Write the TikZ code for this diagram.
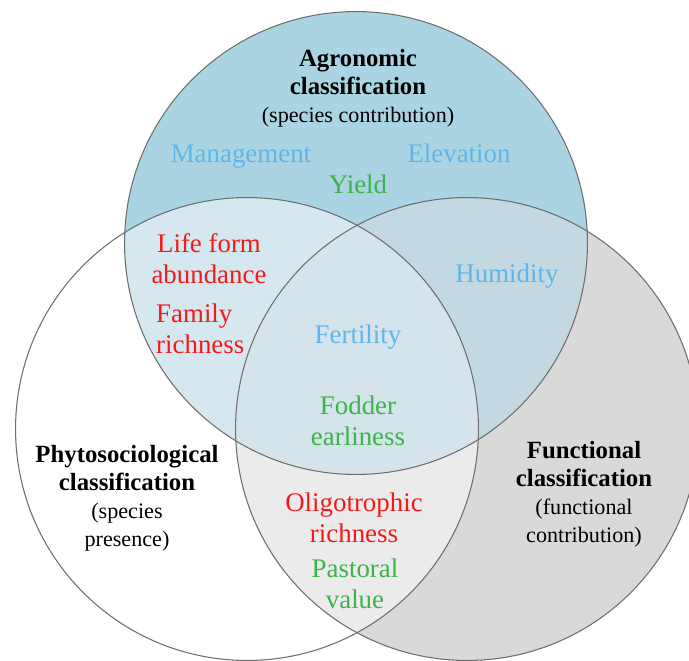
\documentclass[tikz,border=0pt]{standalone}
\usepackage{fontspec}
\setmainfont{Liberation Serif}
\definecolor{agroblue}{RGB}{170,212,226}
\definecolor{funcgray}{RGB}{217,217,217}
\definecolor{agrophyto}{RGB}{213,232,240}
\definecolor{agrofunc}{RGB}{195,216,224}
\definecolor{phytofunc}{RGB}{235,235,235}
\definecolor{allthree}{RGB}{213,227,234}
\definecolor{ringgray}{RGB}{110,110,110}
\definecolor{txtred}{RGB}{245,25,25}
\definecolor{txtblue}{RGB}{95,182,235}
\definecolor{txtgreen}{RGB}{60,180,75}
\begin{document}
\begin{tikzpicture}[x=0.02cm,y=-0.02cm,
  ring/.style={draw=ringgray,line width=0.6pt},
  headtext/.style={align=center,anchor=base,font=\fontsize{14.1}{15.9}\selectfont},
  coltext/.style={align=center,anchor=base,font=\fontsize{15.3}{17.6}\selectfont}]
\useasboundingbox (0,0) rectangle (689,660);
\fill[white] (0,0) rectangle (689,660);
\clip (0,0) rectangle (689,660);
\def\rad{4.63cm}
\coordinate (agroc) at (356,243);
\coordinate (phytoc) at (247,429);
\coordinate (funcc) at (467,429);
% circles and their overlaps
\fill[agroblue] (agroc) circle[radius=\rad];
\fill[funcgray] (funcc) circle[radius=\rad];
\begin{scope}
\clip (agroc) circle[radius=\rad];
\fill[agrofunc] (funcc) circle[radius=\rad];
\fill[agrophyto] (phytoc) circle[radius=\rad];
\end{scope}
\begin{scope}
\clip (phytoc) circle[radius=\rad];
\fill[phytofunc] (funcc) circle[radius=\rad];
\end{scope}
\begin{scope}
\clip (agroc) circle[radius=\rad];
\clip (phytoc) circle[radius=\rad];
\fill[allthree] (funcc) circle[radius=\rad];
\end{scope}
\draw[ring] (agroc) circle[radius=\rad];
\draw[ring] (phytoc) circle[radius=\rad];
\draw[ring] (funcc) circle[radius=\rad];
% set titles (base = last line)
\node[headtext] (agro) at (358,122) {\textbf{Agronomic}\\\textbf{classification}\\{\fontsize{12.6}{15.6}\selectfont(species contribution)}};
\node[headtext] (phyto) at (127,546) {\textbf{Phytosociological}\\\textbf{classification}\\{\fontsize{12.6}{15.6}\selectfont(species}\\{\fontsize{12.6}{15.6}\selectfont presence)}};
\node[headtext] (func) at (584,542) {\textbf{Functional}\\\textbf{classification}\\{\fontsize{12.6}{15.6}\selectfont(functional}\\{\fontsize{12.6}{15.6}\selectfont contribution)}};
% criteria
\node[coltext,text=txtblue] (mgmt) at (241,162) {Management};
\node[coltext,text=txtblue] (elev) at (459,162) {Elevation};
\node[coltext,text=txtgreen] (yield) at (358,193) {Yield};
\node[coltext,text=txtred] (lifeform) at (209,283) {Life form\\abundance};
\node[coltext,text=txtred,align=left,anchor=base west] (family) at (150,353) {Family\\richness};
\node[coltext,text=txtblue] (humid) at (507,282) {Humidity};
\node[coltext,text=txtblue] (fert) at (358,343) {Fertility};
\node[coltext,text=txtgreen] (fodder) at (358,445) {Fodder\\earliness};
\node[coltext,text=txtred] (oligo) at (354,542) {Oligotrophic\\richness};
\node[coltext,text=txtgreen] (pastoral) at (355,608) {Pastoral\\value};
\end{tikzpicture}
\end{document}
